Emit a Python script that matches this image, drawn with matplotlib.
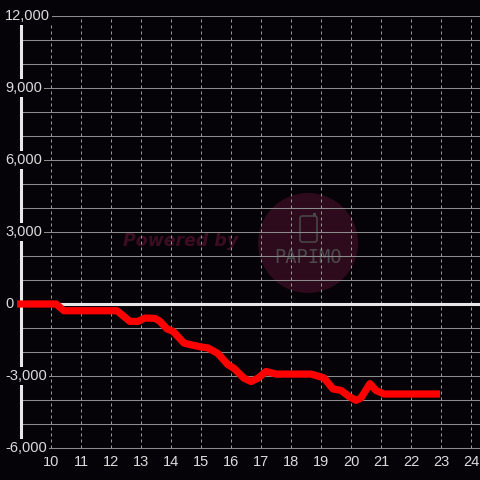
import matplotlib
matplotlib.use('Agg')
import matplotlib.pyplot as plt
from matplotlib.patches import Ellipse, FancyBboxPatch, Rectangle

# data (hour of day, cumulative value)
hours = [8.87, 10.17, 10.43, 12.2, 12.63, 12.9, 13.13, 13.47, 13.63, 13.87, 14.07,
         14.43, 14.67, 15.0, 15.23, 15.57, 15.9, 16.1, 16.43, 16.67, 16.9, 17.17,
         17.5, 18.67, 19.1, 19.4, 19.67, 19.93, 20.17, 20.33, 20.63, 20.83, 21.1, 22.97]
values = [0, 0, -280, -280, -725, -725, -585, -600, -720, -1040, -1140,
          -1625, -1700, -1790, -1830, -2070, -2530, -2680, -3090, -3230, -3090, -2810,
          -2920, -2920, -3080, -3540, -3600, -3850, -4015, -3920, -3320, -3600, -3750, -3750]

x_ticks = list(range(10, 25))
y_grid = list(range(-6000, 12001, 1000))
y_labels = list(range(-6000, 12001, 3000))

bg = '#050307'
txt = '#dcdcdc'

fig = plt.figure(figsize=(4.8, 4.8), dpi=100, facecolor=bg)
ax = fig.add_axes([21/480, 32/480, 459/480, 432/480], facecolor=bg)
ax.set_xlim(9, 24.3)
ax.set_ylim(-6000, 12000)

#Grid
ax.set_axisbelow(True)
ax.set_xticks(x_ticks)
ax.set_yticks(y_grid)
ax.grid(axis='y', color='#8c8c8c', linewidth=0.75, linestyle='-')
ax.grid(axis='x', color='#9a9a9a', linewidth=0.72, linestyle=(0, (3, 3)))
ax.tick_params(axis='both', length=0)
ax.tick_params(axis='x', colors=txt, labelsize=10.5, pad=5)
ax.tick_params(axis='y', labelleft=False)
for lbl in ax.get_xticklabels():
    lbl.set_fontfamily('Liberation Sans')

ax.spines['top'].set_visible(False)
ax.spines['right'].set_visible(False)
ax.spines['bottom'].set_color('#8c8c8c')
ax.spines['bottom'].set_linewidth(0.75)
ax.spines['left'].set_color('#e8e8e8')
ax.spines['left'].set_linewidth(2.2)

#Watermark
ax.add_patch(Ellipse((18.567, 2542), 100/30, 100*18000/432, color='#2e0a1d', zorder=0.2, lw=0))
ax.add_patch(FancyBboxPatch((18.3, 2583), 0.567, 1084, boxstyle='round,pad=0,rounding_size=0.08',
                            mutation_aspect=1250, fill=False, edgecolor='#4a4a4a', lw=1.1, zorder=0.3))
ax.add_patch(Rectangle((18.72, 3667), 0.13, 110, color='#4a4a4a', zorder=0.3, lw=0))
ax.text(18.55, 1917, 'PAPIMO', family='DejaVu Sans Mono', fontsize=13.5, color='#4a4a4a',
        ha='center', va='center', zorder=0.3)
ax.text(12.4, 2625, 'Powered by', fontsize=12.5, fontweight='bold', fontstyle='italic',
        color='#3c0c23', ha='left', va='center', zorder=0.3)

#Zero line and series
ax.axhline(0, color='#e8e8e8', linewidth=2.2, zorder=2)
ax.plot(hours, values, color='#ff0000', linewidth=5.2, solid_joinstyle='round',
        solid_capstyle='butt', zorder=3, clip_on=False)

#Y labels drawn on top of the axis line
for v in y_labels:
    ax.annotate(f'{v:,}', xy=(0, v), xycoords=('axes fraction', 'data'),
                xytext=(-16, 0), textcoords='offset pixels', ha='left', va='center',
                color=txt, fontsize=10.5, family='Liberation Sans', zorder=5,
                annotation_clip=False,
                bbox=dict(facecolor=bg, edgecolor='none', pad=1.5))

plt.savefig('out.png', dpi=100, facecolor=bg)
